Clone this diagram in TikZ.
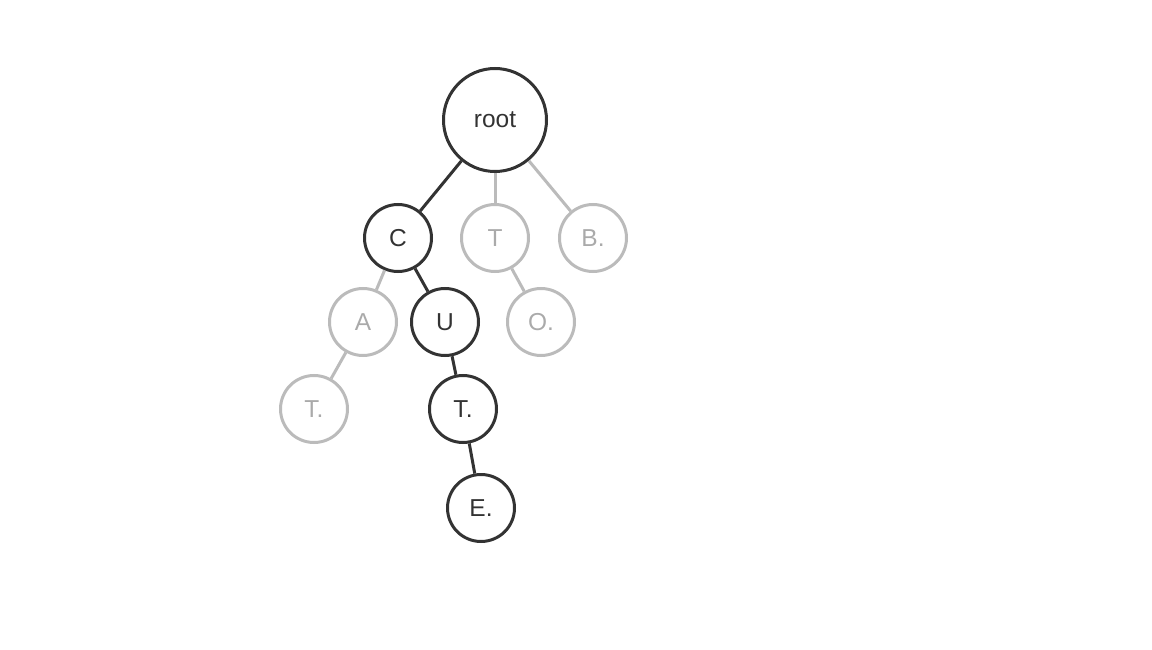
\documentclass[tikz,border=0pt]{standalone}
\usepackage{fontspec}
\setmainfont{Liberation Sans}
\usetikzlibrary{positioning}
\definecolor{darkline}{HTML}{333333}
\definecolor{paleline}{HTML}{BBBBBB}
\definecolor{paletext}{HTML}{AAAAAA}

\begin{document}
\begin{tikzpicture}[
    x=1pt, y=-1pt,
    every node/.style={
        circle, draw,
        line width=3pt,
        inner sep=0pt,
        font=\fontsize{24.5}{24.5}\selectfont
    },
    onpath/.style={draw=darkline, text=darkline, minimum size=67pt},
    offpath/.style={draw=paleline, text=paletext, minimum size=67pt},
    onedge/.style={draw=darkline, line width=3pt},
    offedge/.style={draw=paleline, line width=3pt}
]
\useasboundingbox (0,0) rectangle (1152,650);

% level 0
\node[onpath, minimum size=103pt] (root) at (495,120) {root};
% level 1
\node[onpath]  (c)  at (398,238) {C};
\node[offpath] (t)  at (495,238) {T};
\node[offpath] (b)  at (593,238) {B.};
% level 2
\node[offpath] (ca) at (363,322) {A};
\node[onpath]  (cu) at (445,322) {U};
\node[offpath] (to) at (541,322) {O.};
% level 3
\node[offpath] (cat) at (314,409) {T.};
\node[onpath]  (cut) at (463,409) {T.};
% level 4
\node[onpath]  (cute) at (481,508) {E.};

\draw[offedge] (root) -- (t);
\draw[offedge] (root) -- (b);
\draw[offedge] (c) -- (ca);
\draw[offedge] (t) -- (to);
\draw[offedge] (ca) -- (cat);
\draw[onedge] (root) -- (c);
\draw[onedge] (c) -- (cu);
\draw[onedge] (cu) -- (cut);
\draw[onedge] (cut) -- (cute);
\end{tikzpicture}
\end{document}
